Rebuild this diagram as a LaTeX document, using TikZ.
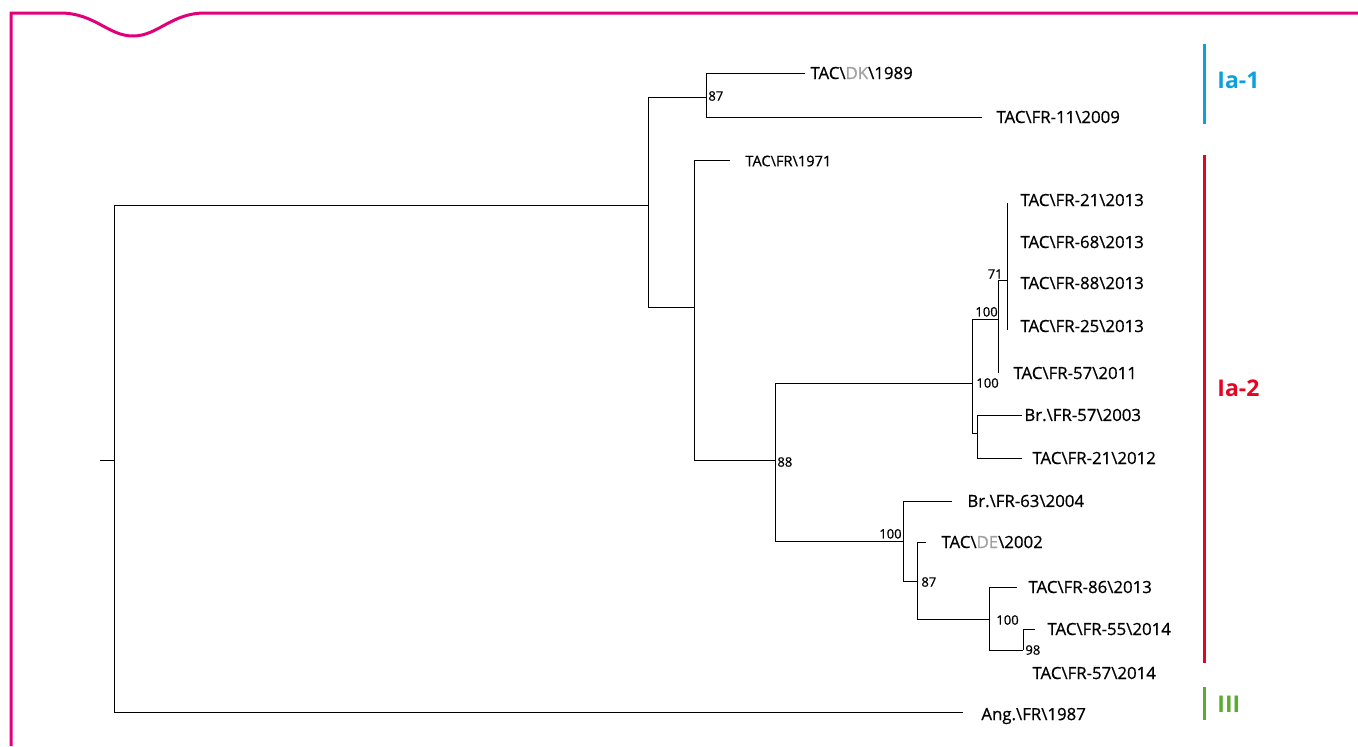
\documentclass[tikz,border=0pt]{standalone}
\usepackage{fontspec}
\setmainfont{Open Sans}
\newfontfamily\treefont[FakeBold=0.7]{Open Sans}
\usepackage{xcolor}
\usepackage{tikz}
\usetikzlibrary{positioning}

\definecolor{framepink}{HTML}{E2007A}
\definecolor{cladeblue}{HTML}{0EA0DB}
\definecolor{cladered}{HTML}{E30521}
\definecolor{cladegreen}{HTML}{5BAA32}
\definecolor{origgray}{HTML}{A0A0A0}
\newcommand{\bs}{\textbackslash}

\begin{document}
\begin{tikzpicture}[x=0.5pt,y=-0.5pt,
  branch/.style={black,line width=0.45pt},
  leaf/.style={anchor=west,inner sep=0pt,font=\treefont\fontsize{8.4}{9}\selectfont},
  boot/.style={inner sep=0pt,font=\treefont\fontsize{6.5}{7}\selectfont},
  clade/.style={anchor=west,inner sep=0pt,font=\fontsize{11.5}{13}\selectfont\bfseries}]
  \useasboundingbox (0,0) rectangle (1358,746);
  % frame with the tab dip
  \draw[framepink,line width=1.5pt] (11,746) -- (11,13) -- (60,13)
    .. controls (95,13) and (108,36) .. (133,36)
    .. controls (158,36) and (171,13) .. (205,13) -- (1358,13);

  % inner nodes of the tree
  \coordinate (root-stub) at (100,460);
  \coordinate (r) at (114,460);
  \coordinate (a) at (648,205);
  \coordinate (b) at (706,97);
  \coordinate (c) at (694,307);
  \coordinate (d) at (775,460);
  \coordinate (e) at (972,383);
  \coordinate (f) at (998,319);
  \coordinate (g) at (1007,280);
  \coordinate (h) at (977,433);
  \coordinate (i) at (903,541);
  \coordinate (j) at (917,581);
  \coordinate (k) at (989,619);
  \coordinate (l) at (1023,650);
  \coordinate (g-top) at (1007,203);
  \coordinate (g-bot) at (1007,330);
  \coordinate (fr5711-end) at (998,373);

  % leaves with a branch
  \foreach \nm/\from/\ex/\ey/\tx/\txt in {
      dk/b/805/73/810/{TAC\bs\textcolor{origgray}{DK}\bs 1989},
      fr11/b/982/117/996/{TAC\bs FR-11\bs 2009},
      br5703/h/1022/415/1024/{Br.\bs FR-57\bs 2003},
      fr2112/h/1022/458/1032/{TAC\bs FR-21\bs 2012},
      br6304/i/952/501/967/{Br.\bs FR-63\bs 2004},
      de/j/926/542/941/{TAC\bs\textcolor{origgray}{DE}\bs 2002},
      fr8613/k/1017/587/1028/{TAC\bs FR-86\bs 2013},
      fr5514/l/1035/629/1047/{TAC\bs FR-55\bs 2014}} {
    \coordinate (\nm-end) at (\ex,\ey);
    \node[leaf] (\nm) at (\tx,\ey) {\txt};
    \draw[branch] (\from) |- (\nm-end);
  }
  \coordinate (ang-end) at (963,712);
  \node[leaf] (ang) at (981,716) {Ang.\bs FR\bs 1987};
  \draw[branch] (r) |- (ang-end);
  \coordinate (fr1971-end) at (730,160);
  \node[leaf,font=\treefont\fontsize{7.3}{8}\selectfont] (fr1971) at (745,161) {TAC\bs FR\bs 1971};
  \draw[branch] (c) |- (fr1971-end);

  % leaves on zero-length branches
  \node[leaf] (fr2113) at (1020,200) {TAC\bs FR-21\bs 2013};
  \node[leaf] (fr6813) at (1020,242) {TAC\bs FR-68\bs 2013};
  \node[leaf] (fr8813) at (1020,283) {TAC\bs FR-88\bs 2013};
  \node[leaf] (fr2513) at (1020,326) {TAC\bs FR-25\bs 2013};
  \node[leaf] (fr5711) at (1013,373) {TAC\bs FR-57\bs 2011};
  \node[leaf] (fr5714) at (1032,673) {TAC\bs FR-57\bs 2014};

  % internal branches
  \draw[branch] (root-stub) -- (r);
  \draw[branch] (r) |- (a);
  \draw[branch] (a) |- (b);
  \draw[branch] (a) |- (c);
  \draw[branch] (c) |- (d);
  \draw[branch] (d) |- (e);
  \draw[branch] (d) |- (i);
  \draw[branch] (e) |- (f);
  \draw[branch] (e) |- (h);
  \draw[branch] (f) |- (g);
  \draw[branch] (f) -- (fr5711-end);
  \draw[branch] (g-top) -- (g-bot);
  \draw[branch] (i) |- (j);
  \draw[branch] (j) |- (k);
  \draw[branch] (k) |- (l);

  % bootstrap values
  \node[boot,anchor=west] (bs-b) at (708,96) {87};
  \node[boot,anchor=west] (bs-d) at (777,462) {88};
  \node[boot,anchor=west] (bs-e) at (976,383) {100};
  \node[boot,anchor=south west] (bs-f) at (975,317) {100};
  \node[boot,anchor=south east] (bs-g) at (1003,279) {71};
  \node[boot,anchor=south east] (bs-i) at (902,539) {100};
  \node[boot,anchor=west] (bs-j) at (921,582) {87};
  \node[boot,anchor=west] (bs-k) at (996,620) {100};
  \node[boot,anchor=west] (bs-l) at (1025,650) {98};

  % clade bars
  \draw[cladeblue,line width=1.5pt] (1204,44) -- (1204,124);
  \draw[cladered,line width=1.5pt] (1204,155) -- (1204,663);
  \draw[cladegreen,line width=1.5pt] (1204,687) -- (1204,720);
  \node[clade,text=cladeblue] (ia1) at (1217,80) {Ia-1};
  \node[clade,text=cladered] (ia2) at (1217,388) {Ia-2};
  \node[clade,text=cladegreen] (iii) at (1217,704) {III};
\end{tikzpicture}
\end{document}
